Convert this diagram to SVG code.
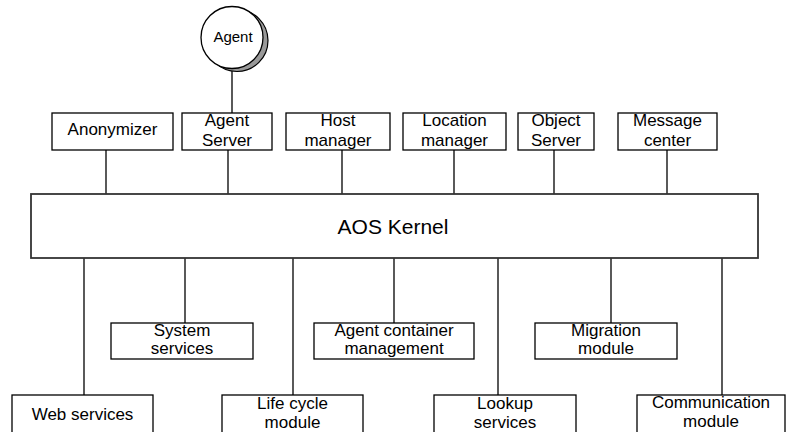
<svg xmlns="http://www.w3.org/2000/svg" width="787" height="432" viewBox="0 0 787 432">
  <style>
    .box { fill: #ffffff; stroke: #000000; stroke-width: 1.3; }
    .kernel { fill: #ffffff; stroke: #333333; stroke-width: 1.8; }
    .wire { stroke: #000000; stroke-width: 1.3; fill: none; }
    .label { font-family: "Liberation Sans", Arial, sans-serif; font-size: 17px; fill: #000000; text-anchor: middle; }
    .big { font-size: 21px; }
    .small { font-size: 15px; }
  </style>
  <rect width="787" height="432" fill="#ffffff"/>

  <!-- connectors -->
  <g id="connectors">
    <line class="wire" x1="232" y1="68" x2="232" y2="113"/>
    <line class="wire" x1="106" y1="150" x2="106" y2="194"/>
    <line class="wire" x1="228" y1="150" x2="228" y2="194"/>
    <line class="wire" x1="342" y1="150" x2="342" y2="194"/>
    <line class="wire" x1="454" y1="150" x2="454" y2="194"/>
    <line class="wire" x1="554" y1="150" x2="554" y2="194"/>
    <line class="wire" x1="667" y1="150" x2="667" y2="194"/>
    <line class="wire" x1="84" y1="258" x2="84" y2="395"/>
    <line class="wire" x1="185" y1="258" x2="185" y2="323"/>
    <line class="wire" x1="293" y1="258" x2="293" y2="395"/>
    <line class="wire" x1="394" y1="258" x2="394" y2="323"/>
    <line class="wire" x1="498" y1="258" x2="498" y2="395"/>
    <line class="wire" x1="611" y1="258" x2="611" y2="323"/>
    <line class="wire" x1="722" y1="258" x2="722" y2="395"/>
  </g>

  <!-- agent -->
  <g id="agent">
    <circle cx="237" cy="40.5" r="31" fill="#999999" stroke="#000000" stroke-width="1.2"/>
    <circle cx="232" cy="37.5" r="31" fill="#ffffff" stroke="#000000" stroke-width="1.3"/>
    <text class="label small" x="233" y="42">Agent</text>
  </g>

  <!-- upper services -->
  <g id="anonymizer">
    <rect class="box" x="52" y="113" width="121" height="37"/>
    <text class="label" x="112.5" y="135">Anonymizer</text>
  </g>
  <g id="agent-server">
    <rect class="box" x="182" y="113" width="90" height="37"/>
    <text class="label" x="227" y="126">Agent</text>
    <text class="label" x="227" y="146">Server</text>
  </g>
  <g id="host-manager">
    <rect class="box" x="286" y="113" width="104" height="37"/>
    <text class="label" x="338" y="126">Host</text>
    <text class="label" x="338" y="146">manager</text>
  </g>
  <g id="location-manager">
    <rect class="box" x="403" y="113" width="103" height="37"/>
    <text class="label" x="454.5" y="126">Location</text>
    <text class="label" x="454.5" y="146">manager</text>
  </g>
  <g id="object-server">
    <rect class="box" x="518" y="113" width="76" height="37"/>
    <text class="label" x="556" y="126">Object</text>
    <text class="label" x="556" y="146">Server</text>
  </g>
  <g id="message-center">
    <rect class="box" x="618" y="113" width="99" height="37"/>
    <text class="label" x="667.5" y="126">Message</text>
    <text class="label" x="667.5" y="146">center</text>
  </g>

  <!-- kernel -->
  <g id="aos-kernel">
    <rect class="kernel" x="31" y="194" width="727" height="64"/>
    <text class="label big" x="393" y="234">AOS Kernel</text>
  </g>

  <!-- lower services, first row -->
  <g id="system-services">
    <rect class="box" x="111" y="323" width="142" height="36"/>
    <text class="label" x="182" y="336">System</text>
    <text class="label" x="182" y="354">services</text>
  </g>
  <g id="agent-container-management">
    <rect class="box" x="314" y="323" width="160" height="36"/>
    <text class="label" x="394" y="336">Agent container</text>
    <text class="label" x="394" y="354">management</text>
  </g>
  <g id="migration-module">
    <rect class="box" x="535" y="323" width="142" height="36"/>
    <text class="label" x="606" y="336">Migration</text>
    <text class="label" x="606" y="354">module</text>
  </g>

  <!-- lower services, second row -->
  <g id="web-services">
    <rect class="box" x="12" y="395" width="141" height="50"/>
    <text class="label" x="82.5" y="420">Web services</text>
  </g>
  <g id="life-cycle-module">
    <rect class="box" x="222" y="395" width="141" height="50"/>
    <text class="label" x="292.5" y="409">Life cycle</text>
    <text class="label" x="292.5" y="428">module</text>
  </g>
  <g id="lookup-services">
    <rect class="box" x="434" y="395" width="142" height="50"/>
    <text class="label" x="505" y="409">Lookup</text>
    <text class="label" x="505" y="428">services</text>
  </g>
  <g id="communication-module">
    <rect class="box" x="637" y="395" width="148" height="50"/>
    <text class="label" x="711" y="408">Communication</text>
    <text class="label" x="711" y="427">module</text>
  </g>
</svg>
